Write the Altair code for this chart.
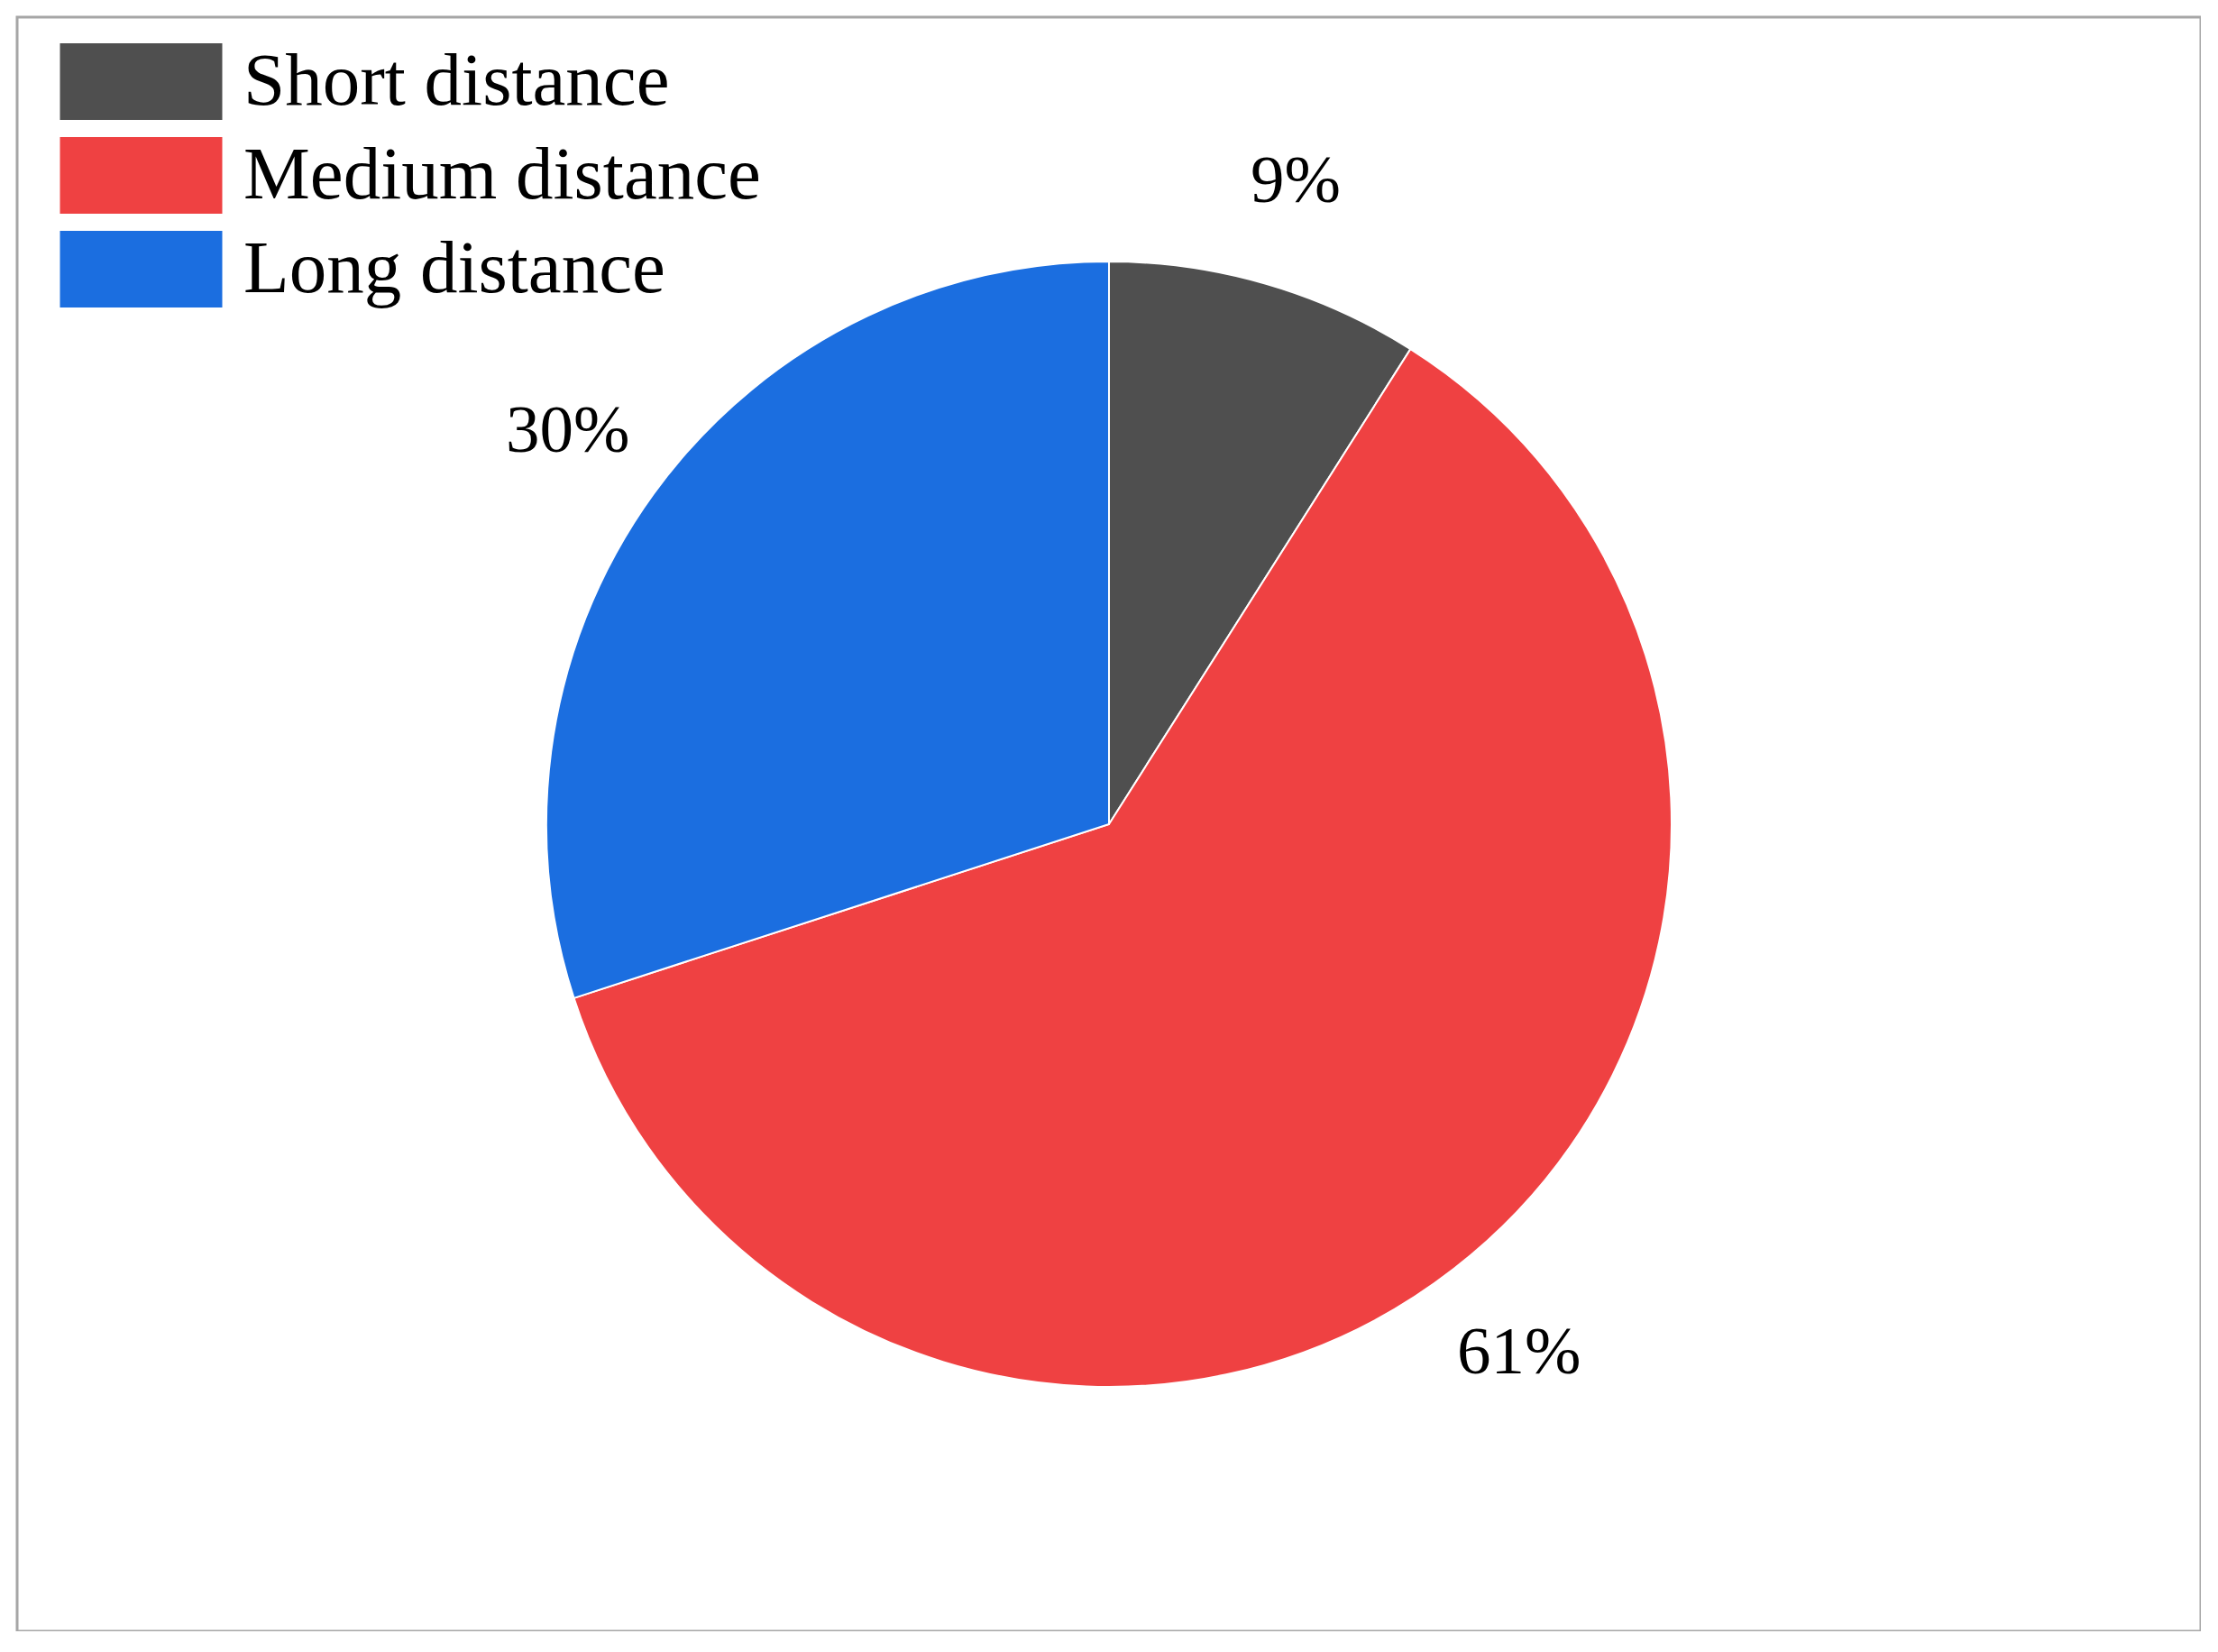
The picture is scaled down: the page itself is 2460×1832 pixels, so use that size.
import altair as alt
import pandas as pd

categories = ["Short distance", "Medium distance", "Long distance"]
shares = [9, 61, 30]
share_labels = ["9%", "61%", "30%"]
colors = ["#4f4f4f", "#ef4142", "#1b6ee0"]

W, H = 2422, 1790

df = pd.DataFrame({
    "category": categories,
    "share": shares,
    "label": share_labels,
    "order": list(range(len(categories))),
})

base = alt.Chart(df).encode(
    theta=alt.Theta("share:Q", stack=True),
    order=alt.Order("order:O"),
)

pie = base.mark_arc(outerRadius=624, stroke="white", strokeWidth=2).encode(
    color=alt.Color(
        "category:N",
        scale=alt.Scale(domain=categories, range=colors),
        sort=categories,
        legend=alt.Legend(
            title=None,
            orient="none",
            legendX=96,
            legendY=30,
            padding=0,
            symbolType="M-3,-1.416H3V1.416H-3Z",
            symbolSize=3600,
            symbolStrokeWidth=0,
            symbolOpacity=1,
            labelFont="Liberation Serif",
            labelFontSize=83,
            labelColor="black",
            labelOffset=72,
            rowPadding=19,
            labelLimit=1000,
        ),
    )
)

text = base.mark_text(
    radius=742, font="Liberation Serif", fontSize=75,
    color="black", align="center", baseline="middle"
).encode(text="label:N")

frame = alt.Chart(pd.DataFrame({"f": [0]})).mark_rect(
    filled=False, stroke="#a6a6a6", strokeWidth=3
).encode(
    x=alt.value(0), x2=alt.value(W), y=alt.value(0), y2=alt.value(H)
)

chart = (frame + pie + text).properties(
    width=W,
    height=H,
    background="white",
    autosize=alt.AutoSizeParams(type="none"),
    padding={"left": 11, "top": 11, "right": 0, "bottom": 0},
).configure_view(stroke=None)

chart.save("out.html", embed_options={"renderer": "svg", "actions": False})
